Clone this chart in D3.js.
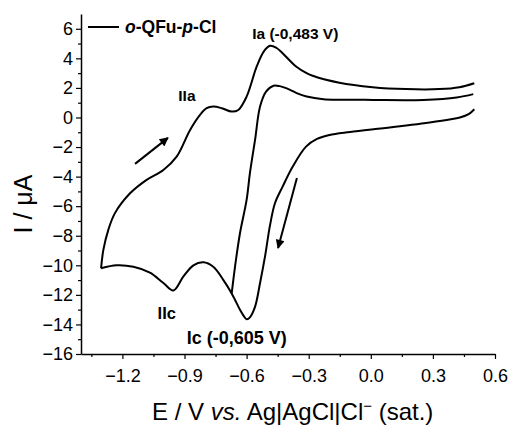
<!DOCTYPE html>
<html>
<head>
<meta charset="utf-8">
<script src="https://cdn.jsdelivr.net/npm/d3@7"></script>
<style>
  body { margin: 0; background: #fff; }
  svg { display: block; font-family: "Liberation Sans", Arial, sans-serif; }
</style>
</head>
<body>
<svg id="chart" width="512" height="431"></svg>
<script>
// first cathodic sweep, 0.5 V -> -1.3 V  [E (V), I (uA)]
const sweepCathodic1 = [
  [0.50, 0.56], [0.475, 0.25], [0.43, 0.0], [0.3, -0.3], [0.1, -0.66],
  [-0.1, -0.98], [-0.2, -1.18], [-0.26, -1.45], [-0.313, -1.97], [-0.377, -3.32],
  [-0.426, -4.68], [-0.463, -5.8], [-0.487, -7.3], [-0.511, -9.4], [-0.535, -11.2],
  [-0.559, -12.8], [-0.583, -13.5], [-0.600, -13.65], [-0.615, -13.4], [-0.632, -13.0],
  [-0.672, -11.9], [-0.712, -11.0], [-0.761, -10.1], [-0.809, -9.8], [-0.857, -10.0],
  [-0.906, -10.77], [-0.954, -11.7], [-1.002, -11.2], [-1.067, -10.5], [-1.147, -10.1],
  [-1.228, -10.0], [-1.303, -10.2]
];

// anodic sweep, -1.3 V -> 0.5 V
const sweepAnodic = [
  [-1.303, -10.2], [-1.292, -8.96], [-1.268, -7.6], [-1.236, -6.47], [-1.163, -5.13],
  [-1.083, -4.22], [-1.002, -3.55], [-0.938, -2.65], [-0.873, -0.84], [-0.825, 0.18],
  [-0.793, 0.63], [-0.761, 0.74], [-0.72, 0.63], [-0.672, 0.4], [-0.64, 0.51],
  [-0.6, 1.41], [-0.551, 3.45], [-0.515, 4.5], [-0.487, 4.85], [-0.455, 4.7],
  [-0.426, 4.35], [-0.361, 3.45], [-0.310, 3.0], [-0.281, 2.82], [-0.152, 2.35],
  [0.009, 2.05], [0.170, 1.92], [0.331, 1.92], [0.428, 2.05], [0.50, 2.32]
];

// second cathodic sweep (partial), 0.5 V -> -0.67 V
const sweepCathodic2 = [
  [0.495, 1.58], [0.415, 1.35], [0.254, 1.19], [0.012, 1.19], [-0.229, 1.24],
  [-0.310, 1.42], [-0.358, 1.65], [-0.39, 1.87], [-0.44, 2.12], [-0.47, 2.15],
  [-0.506, 1.75], [-0.535, 0.74], [-0.559, -1.5], [-0.584, -3.77], [-0.600, -5.58],
  [-0.632, -7.83], [-0.656, -10.1], [-0.672, -11.9]
];

const xTicks = [-1.2, -0.9, -0.6, -0.3, 0.0, 0.3, 0.6];
const xMinorTicks = [-1.35, -1.05, -0.75, -0.45, -0.15, 0.15, 0.45];
const yTicks = [-16, -14, -12, -10, -8, -6, -4, -2, 0, 2, 4, 6];
const yMinorTicks = [-15, -13, -11, -9, -7, -5, -3, -1, 1, 3, 5];

// peak labels [text, E, I, font size]
const peakLabels = [
  ["Ia (-0,483 V)", -0.573, 5.32, 15.5],
  ["IIa", -0.93, 1.1, 15.5],
  ["IIc", -1.03, -13.6, 16.5],
  ["Ic (-0,605 V)", -0.889, -15.32, 18]
];

// scan direction arrows [E0, I0, E1, I1]
const arrows = [
  [-1.139, -3.14, -0.98, -1.38],
  [-0.357, -4.09, -0.448, -8.83]
];

const svg = d3.select("#chart");

const x = d3.scaleLinear().domain([-1.4, 0.6]).range([81, 495]);
const y = d3.scaleLinear().domain([-16, 7]).range([354, 14]);

// axes
svg.append("g")
  .attr("transform", `translate(0,${y(-16)})`)
  .call(d3.axisBottom(x).tickValues(xTicks).tickFormat(d3.format(".1f")).tickSize(5).tickPadding(10).tickSizeOuter(0));
svg.append("g")
  .attr("transform", `translate(0,${y(-16)})`)
  .call(d3.axisBottom(x).tickValues(xMinorTicks).tickFormat("").tickSize(3).tickSizeOuter(0))
  .select(".domain").remove();

svg.append("g")
  .attr("transform", `translate(${x(-1.4)},0)`)
  .call(d3.axisLeft(y).tickValues(yTicks).tickSize(5).tickPadding(3).tickSizeOuter(0));
svg.append("g")
  .attr("transform", `translate(${x(-1.4)},0)`)
  .call(d3.axisLeft(y).tickValues(yMinorTicks).tickFormat("").tickSize(3).tickSizeOuter(0))
  .select(".domain").remove();

svg.selectAll(".domain").attr("stroke-width", 1.5);
svg.selectAll(".tick line").attr("stroke-width", 1.2);
svg.selectAll(".tick text")
  .attr("font-size", 18)
  .attr("font-family", "Liberation Sans, Arial, sans-serif")
  .attr("fill", "#000");

// axis titles
svg.append("text")
  .attr("x", 152).attr("y", 420)
  .attr("font-size", 24)
  .call(t => {
    t.append("tspan").text("E / V ");
    t.append("tspan").attr("font-style", "italic").text("vs.");
    t.append("tspan").text(" Ag|AgCl|Cl");
    t.append("tspan").attr("dy", -9).attr("font-size", 15).text("\u2212");
    t.append("tspan").attr("dy", 9).text(" (sat.)");
  });

svg.append("text")
  .attr("transform", "translate(32,204) rotate(-90)")
  .attr("text-anchor", "middle")
  .attr("font-size", 25)
  .text("I / \u03bcA");

// curves
const line = d3.line()
  .x(d => x(d[0]))
  .y(d => y(d[1]))
  .curve(d3.curveCatmullRom.alpha(0.5));

svg.append("g")
  .selectAll("path")
  .data([sweepCathodic1, sweepAnodic, sweepCathodic2])
  .enter()
  .append("path")
  .attr("d", line)
  .attr("fill", "none")
  .attr("stroke", "#000")
  .attr("stroke-width", 2);

// arrows
svg.append("defs").append("marker")
  .attr("id", "head")
  .attr("viewBox", "0 0 10 10")
  .attr("refX", 9).attr("refY", 5)
  .attr("markerWidth", 13).attr("markerHeight", 9)
  .attr("markerUnits", "userSpaceOnUse")
  .attr("orient", "auto")
  .append("path")
  .attr("d", "M0,0 L10,5 L0,10 Z")
  .attr("fill", "#000");

svg.append("g")
  .selectAll("line")
  .data(arrows)
  .enter()
  .append("line")
  .attr("x1", d => x(d[0])).attr("y1", d => y(d[1]))
  .attr("x2", d => x(d[2])).attr("y2", d => y(d[3]))
  .attr("stroke", "#000")
  .attr("stroke-width", 2)
  .attr("marker-end", "url(#head)");

// peak labels
svg.append("g")
  .selectAll("text")
  .data(peakLabels)
  .enter()
  .append("text")
  .attr("x", d => x(d[1]))
  .attr("y", d => y(d[2]))
  .attr("font-size", d => d[3])
  .attr("font-weight", "bold")
  .text(d => d[0]);

// legend
const legend = svg.append("g");
legend.append("line")
  .attr("x1", 88).attr("x2", 119)
  .attr("y1", 27).attr("y2", 27)
  .attr("stroke", "#000").attr("stroke-width", 2);
legend.append("text")
  .attr("x", 125).attr("y", 33)
  .attr("font-size", 17.5)
  .attr("font-weight", "bold")
  .call(t => {
    t.append("tspan").attr("font-style", "italic").text("o");
    t.append("tspan").text("-QFu-");
    t.append("tspan").attr("font-style", "italic").text("p");
    t.append("tspan").text("-Cl");
  });
</script>
</body>
</html>
